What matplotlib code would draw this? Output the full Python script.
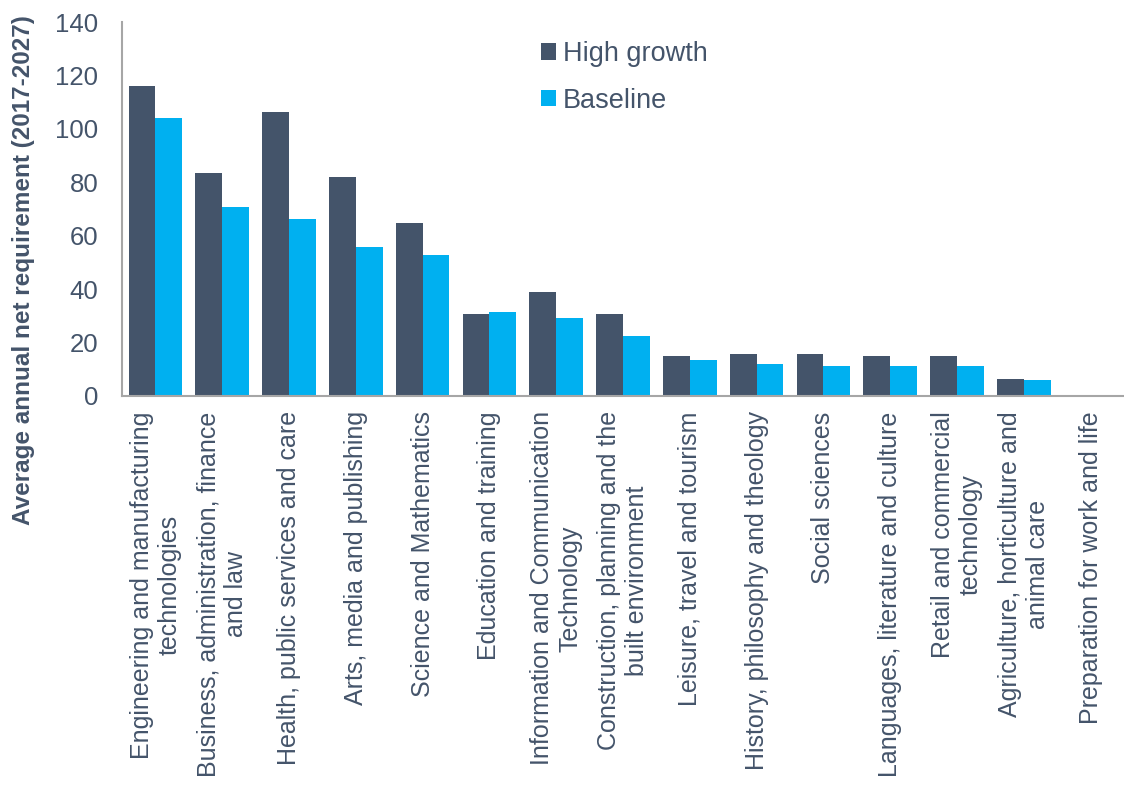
import numpy as np
import matplotlib
matplotlib.use("Agg")
import matplotlib.pyplot as plt

plt.rcParams['font.family'] = ['Liberation Sans', 'DejaVu Sans']

# Subject areas and average annual net requirement (2017-2027)
categories = [
    "Engineering and manufacturing\ntechnologies",
    "Business, administration, finance\nand law",
    "Health, public services and care",
    "Arts, media and publishing",
    "Science and Mathematics",
    "Education and training",
    "Information and Communication\nTechnology",
    "Construction, planning and the\nbuilt environment",
    "Leisure, travel and tourism",
    "History, philosophy and theology",
    "Social sciences",
    "Languages, literature and culture",
    "Retail and commercial\ntechnology",
    "Agriculture, horticulture and\nanimal care",
    "Preparation for work and life",
]
high_growth = [116.2, 83.6, 106.4, 82.1, 64.7, 30.7, 39.1, 30.7, 14.8, 15.6, 15.6, 14.8, 14.8, 6.5, 0]
baseline = [104.0, 70.8, 66.2, 55.7, 52.7, 31.5, 29.1, 22.3, 13.3, 11.9, 11.1, 11.1, 11.1, 5.9, 0]
yticks = [0, 20, 40, 60, 80, 100, 120, 140]

dark = '#44546A'
cyan = '#00B0F0'
text_col = '#44546A'
spine_col = '#A6A6A6'

W, H = 1124, 788
fig = plt.figure(figsize=(W / 100, H / 100), dpi=100)
ax = fig.add_axes([122 / W, 1 - 396 / H, 1002 / W, 374 / H])

x = np.arange(len(categories))
w = 0.4
ax.bar(x - w / 2, high_growth, w, color=dark, label='High growth')
ax.bar(x + w / 2, baseline, w, color=cyan, label='Baseline')

ax.set_xlim(-0.5, len(categories) - 0.5)
ax.set_ylim(0, 140)
ax.set_yticks(yticks)
ax.set_xticks(x)
ax.set_xticklabels(categories, rotation=90, ha='center', va='top',
                   multialignment='center', fontsize=18, color=text_col)
ax.tick_params(axis='x', length=0, pad=11)
ax.tick_params(axis='y', length=0, pad=17, labelsize=18.5, labelcolor=text_col)

for s in ['top', 'right']:
    ax.spines[s].set_visible(False)
for s in ['left', 'bottom']:
    ax.spines[s].set_color(spine_col)
    ax.spines[s].set_linewidth(1.5)

fig.text(24 / W, 1 - 270 / H, 'Average annual net requirement (2017-2027)',
         rotation=90, ha='center', va='center', fontsize=17.5,
         fontweight='bold', color=text_col)

leg = ax.legend(loc='upper left', bbox_to_anchor=(541 / W, 1 - 41 / H),
                bbox_transform=fig.transFigure, frameon=False, fontsize=19.5,
                handlelength=0.55, handleheight=0.55, handletextpad=0.27,
                labelspacing=0.76, borderpad=0, borderaxespad=0)
for t in leg.get_texts():
    t.set_color(text_col)

fig.savefig('out.png', dpi=100)
